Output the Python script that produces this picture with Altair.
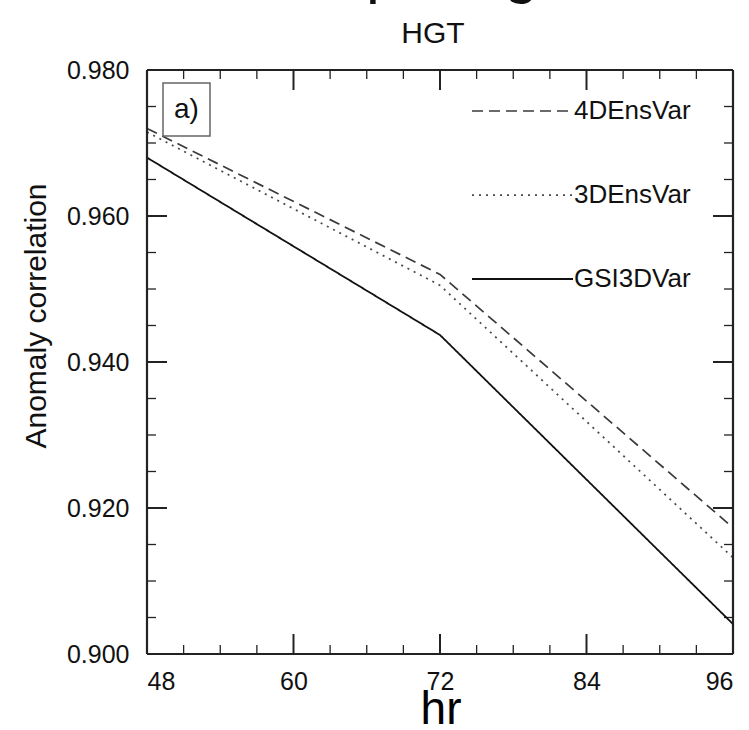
import altair as alt
import pandas as pd

# ---- data ----
hours = [48, 72, 96]
ac_4densvar = [0.9720, 0.9520, 0.9173]
ac_3densvar = [0.9715, 0.9505, 0.9132]
ac_gsi3dvar = [0.9680, 0.9437, 0.9041]
series_names = ["4DEnsVar", "3DEnsVar", "GSI3DVar"]

x_major = [48, 60, 72, 84, 96]
x_minor = [51, 54, 57, 63, 66, 69, 75, 78, 81, 87, 90, 93]
y_major = [0.90, 0.92, 0.94, 0.96, 0.98]
y_minor = [0.905, 0.910, 0.915, 0.925, 0.930, 0.935, 0.945, 0.950, 0.955,
           0.965, 0.970, 0.975]

FONT = "Liberation Sans"
W, H = 586, 584

rows = []
for name, vals in zip(series_names, [ac_4densvar, ac_3densvar, ac_gsi3dvar]):
    for h, v in zip(hours, vals):
        rows.append({"hr": h, "ac": v, "series": name})
df = pd.DataFrame(rows)

xs = alt.Scale(domain=[48, 96], nice=False, zero=False)
ys = alt.Scale(domain=[0.90, 0.98], nice=False, zero=False)
x_axis = alt.Axis(values=x_major, ticks=False, tickSize=0, domain=False, grid=False,
                  title=None, labelFontSize=25, labelFont=FONT, labelColor="#111",
                  labelPadding=15)
y_axis = alt.Axis(values=y_major, ticks=False, tickSize=0, domain=False, grid=False,
                  title=None, format=".3f", labelFontSize=25, labelFont=FONT,
                  labelColor="#111", labelPadding=18)

dash_scale = alt.Scale(domain=series_names, range=[[11, 6], [2, 5], [1, 0]])
color_scale = alt.Scale(domain=series_names, range=["#3a3a3a", "#4a4a4a", "#111111"])
width_scale = alt.Scale(domain=series_names, range=[1.7, 1.8, 2.2])

lines = alt.Chart(df).mark_line().encode(
    x=alt.X("hr:Q", scale=xs, axis=x_axis),
    y=alt.Y("ac:Q", scale=ys, axis=y_axis),
    detail="series:N",
    strokeDash=alt.StrokeDash("series:N", scale=dash_scale, legend=None),
    color=alt.Color("series:N", scale=color_scale, legend=None),
    strokeWidth=alt.StrokeWidth("series:N", scale=width_scale, legend=None),
)

# inward ticks on all four sides
xmaj = pd.DataFrame({"hr": x_major})
xmin = pd.DataFrame({"hr": x_minor})
ymaj = pd.DataFrame({"ac": y_major})
ymin = pd.DataFrame({"ac": y_minor})

def xticks(data, length, sw):
    bot = alt.Chart(data).mark_rule(color="#222", strokeWidth=sw).encode(
        x=alt.X("hr:Q", scale=xs, axis=x_axis), y=alt.value(H), y2=alt.value(H - length))
    top = alt.Chart(data).mark_rule(color="#222", strokeWidth=sw).encode(
        x=alt.X("hr:Q", scale=xs, axis=x_axis), y=alt.value(0), y2=alt.value(length))
    return [bot, top]

def yticks(data, length, sw):
    left = alt.Chart(data).mark_rule(color="#222", strokeWidth=sw).encode(
        y=alt.Y("ac:Q", scale=ys, axis=y_axis), x=alt.value(0), x2=alt.value(length))
    right = alt.Chart(data).mark_rule(color="#222", strokeWidth=sw).encode(
        y=alt.Y("ac:Q", scale=ys, axis=y_axis), x=alt.value(W), x2=alt.value(W - length))
    return [left, right]

tick_layers = (xticks(xmaj, 20, 2.0) + xticks(xmin, 9, 1.3)
               + yticks(ymaj, 20, 2.0) + yticks(ymin, 9, 1.3))

one = pd.DataFrame({"k": [0]})

# plot frame (four sides)
frame = [
    alt.Chart(one).mark_rule(color="#222", strokeWidth=2.2).encode(
        x=alt.value(0), x2=alt.value(W), y=alt.value(0)),
    alt.Chart(one).mark_rule(color="#222", strokeWidth=2.2).encode(
        x=alt.value(0), x2=alt.value(W), y=alt.value(H)),
    alt.Chart(one).mark_rule(color="#222", strokeWidth=2.2).encode(
        y=alt.value(0), y2=alt.value(H), x=alt.value(0)),
    alt.Chart(one).mark_rule(color="#222", strokeWidth=2.2).encode(
        y=alt.value(0), y2=alt.value(H), x=alt.value(W)),
]

# legend drawn inside the plot (top right)
legend_y = [41, 125, 209]
legend_layers = []
for name, ly in zip(series_names, legend_y):
    sub = pd.DataFrame({"series": [name]})
    legend_layers.append(
        alt.Chart(sub).mark_rule().encode(
            x=alt.value(325), x2=alt.value(426), y=alt.value(ly),
            strokeDash=alt.StrokeDash("series:N", scale=dash_scale, legend=None),
            color=alt.Color("series:N", scale=color_scale, legend=None),
            strokeWidth=alt.StrokeWidth("series:N", scale=width_scale, legend=None),
        ))
    legend_layers.append(
        alt.Chart(sub).mark_text(align="left", baseline="middle", font=FONT,
                                 fontSize=26, color="#111").encode(
            x=alt.value(427), y=alt.value(ly), text="series:N"))

# panel label "a)" in a box
box = alt.Chart(one).mark_rect(fill="white", stroke="#666", strokeWidth=1.5).encode(
    x=alt.value(16), x2=alt.value(63), y=alt.value(13), y2=alt.value(66))
box_text = alt.Chart(one).mark_text(font=FONT, fontSize=28, color="#111",
                                    align="center", baseline="middle").encode(
    x=alt.value(39.5), y=alt.value(40), text=alt.value("a)"))

# titles (the main title is cut off by the top edge in the reference)
cut_title = alt.Chart(one).mark_text(font=FONT, fontSize=62, color="#111",
                                     align="left", baseline="alphabetic").encode(
    x=alt.value(88), y=alt.value(-79), text=alt.value("Comparing"))
hgt = alt.Chart(one).mark_text(font=FONT, fontSize=30, color="#111",
                               align="center", baseline="middle").encode(
    x=alt.value(286), y=alt.value(-36), text=alt.value("HGT"))
xtitle = alt.Chart(one).mark_text(font=FONT, fontSize=46, color="#000",
                                  align="center", baseline="alphabetic").encode(
    x=alt.value(294), y=alt.value(654), text=alt.value("hr"))
ytitle = alt.Chart(one).mark_text(font=FONT, fontSize=30, color="#111", angle=270,
                                  align="center", baseline="middle").encode(
    x=alt.value(-110), y=alt.value(246), text=alt.value("Anomaly correlation"))

chart = alt.layer(
    *tick_layers, lines, *legend_layers, box, box_text, *frame,
    cut_title, hgt, xtitle, ytitle
).properties(
    width=W, height=H,
    autosize=alt.AutoSizeParams(type="none"),
    padding={"left": 147, "top": 70, "right": 16, "bottom": 76},
).configure_view(
    stroke=None
).configure(background="white")

chart.save("out.html", embed_options={"renderer": "svg", "actions": False})
